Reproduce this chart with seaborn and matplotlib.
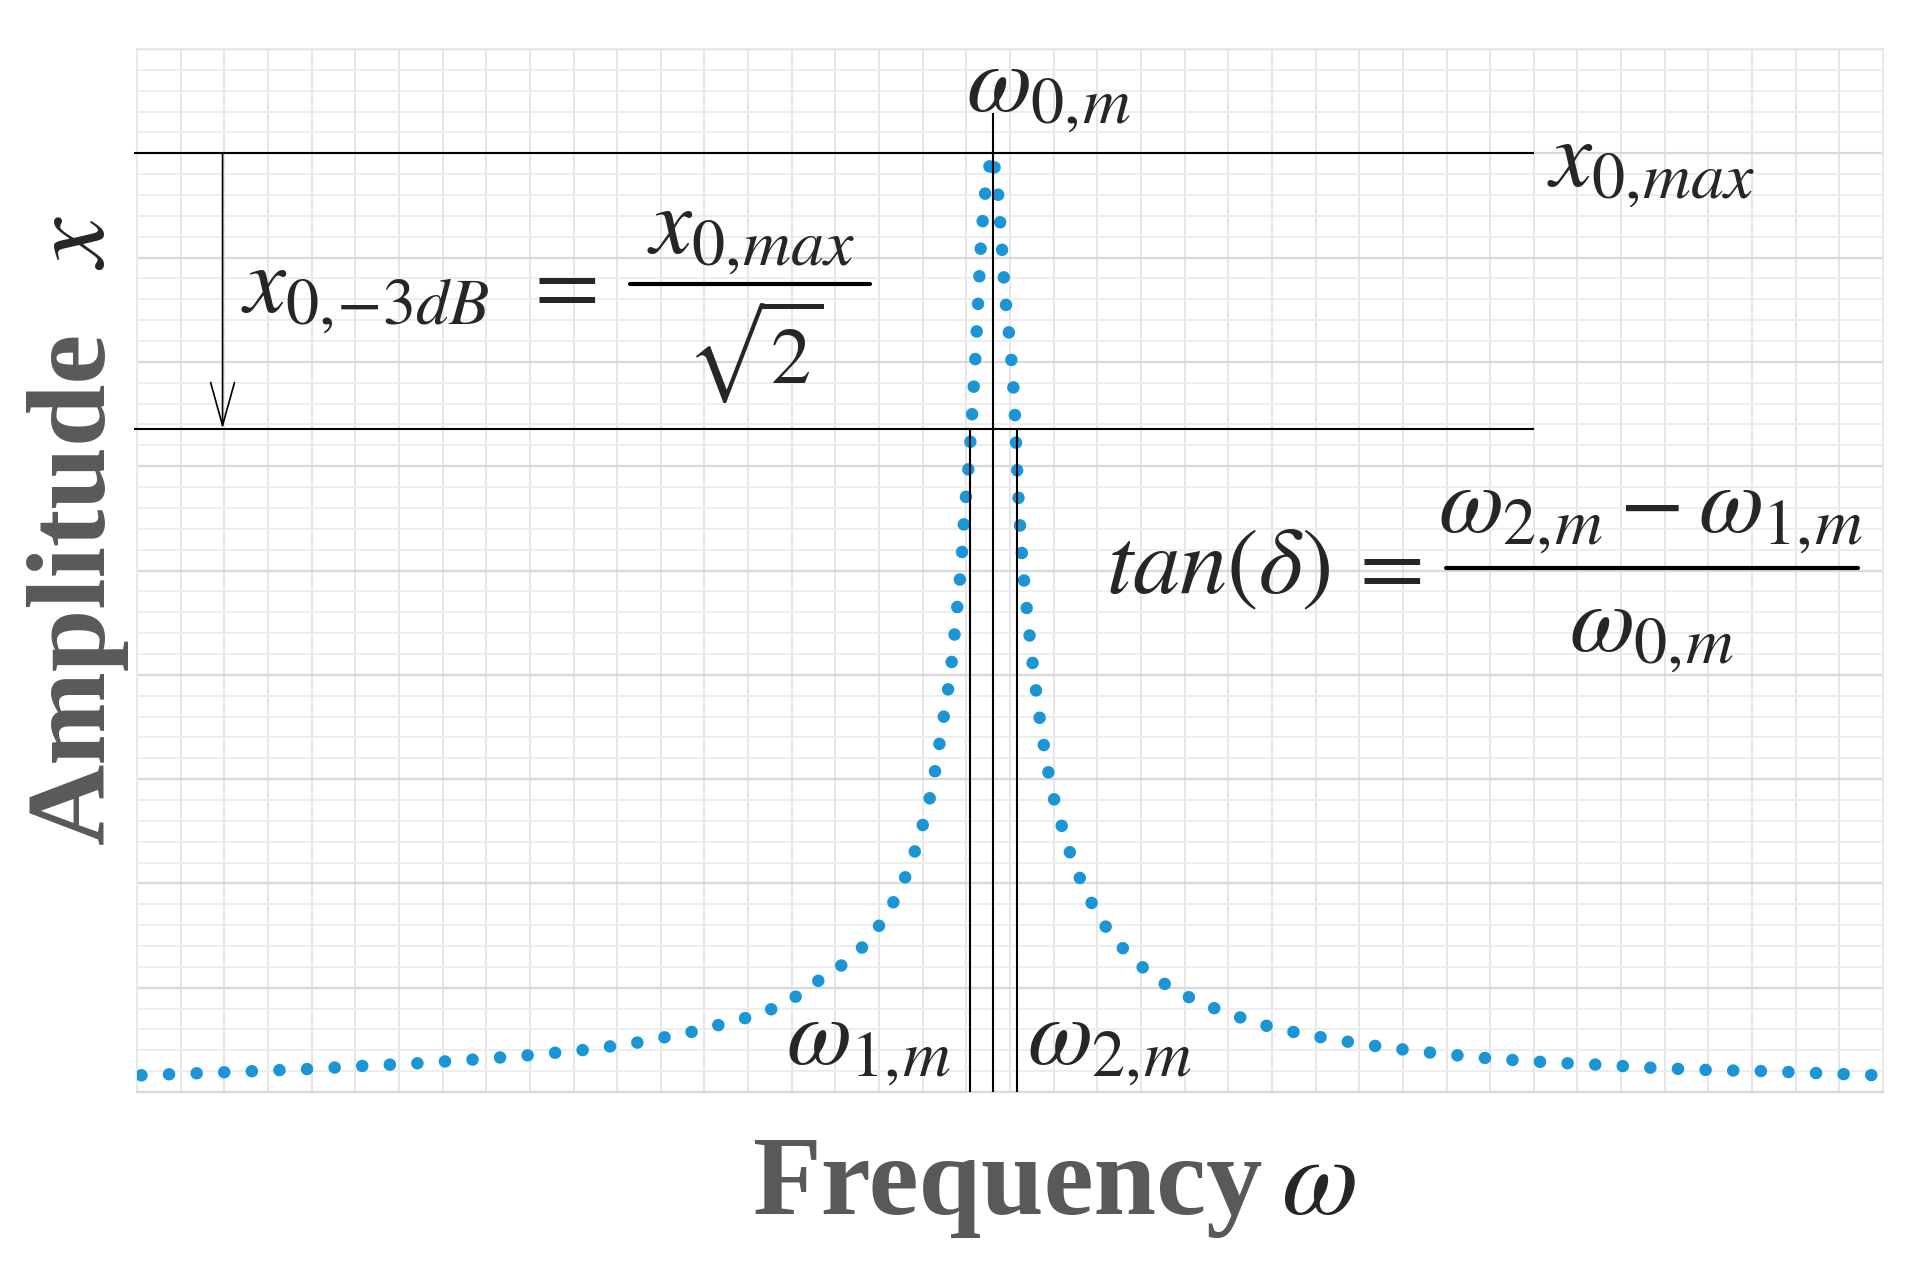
import numpy as np
import matplotlib
matplotlib.use('Agg')
import matplotlib.pyplot as plt
import seaborn as sns

# resonance curve (frequency in grid columns, amplitude in major grid rows)
omega = [0.10, 1.40, 2.66, 3.92, 5.17, 6.42, 7.67, 8.91, 10.18, 11.41,
         12.65, 13.87, 14.46, 14.98, 15.40, 15.92, 16.43, 16.83, 17.19, 17.48,
         17.73, 17.92, 18.09, 18.23, 18.43, 18.63, 18.76, 18.88, 18.96, 19.07,
         19.15, 19.22, 19.28, 19.34, 19.45, 19.59,
         19.71, 19.80, 19.88, 20.01, 20.10, 20.15, 20.21, 20.29, 20.41, 20.55,
         20.72, 20.93, 21.08, 21.27, 21.45, 21.71, 21.99, 22.33, 22.75, 23.22,
         23.74, 24.30, 24.87, 25.46, 26.07, 27.31, 28.55, 29.79, 31.04, 32.30,
         33.56, 34.80, 36.05, 37.30, 38.57, 39.83]
amplitude = [0.16, 0.18, 0.20, 0.22, 0.25, 0.275, 0.31, 0.35, 0.40, 0.47,
             0.57, 0.70, 0.78, 0.88, 1.01, 1.15, 1.30, 1.49, 1.71, 1.94,
             2.19, 2.44, 2.69, 2.94, 3.46, 3.99, 4.51, 5.04, 5.56, 6.09,
             6.62, 7.14, 7.66, 8.19, 8.71, 9.00,
             8.71, 8.19, 7.66, 7.14, 6.62, 6.09, 5.56, 5.04, 4.52, 3.99,
             3.46, 2.94, 2.69, 2.44, 2.19, 1.95, 1.71, 1.50, 1.30, 1.13,
             0.98, 0.87, 0.77, 0.69, 0.61, 0.51, 0.43, 0.37, 0.32, 0.285,
             0.26, 0.23, 0.21, 0.20, 0.18, 0.16]

x0_max = 9.0
x0_3db = 6.36
w0 = 19.60
w1 = 19.08
w2 = 20.15

sns.set_style('white')
plt.rcParams['mathtext.fontset'] = 'stix'
plt.rcParams['font.family'] = ['Liberation Serif', 'DejaVu Serif']

fig = plt.figure(figsize=(19.17, 12.88), dpi=100)
ax = fig.add_axes([137/1917, 196/1288, 1746/1917, 1043/1288])
ax.set_xlim(0, 40)
ax.set_ylim(0, 10)

# excel style grid
ax.set_xticks(np.arange(0, 41, 1))
ax.set_yticks(np.arange(0, 11, 1))
ax.set_yticks(np.arange(0, 10.01, 0.2), minor=True)
ax.tick_params(which='both', length=0, labelbottom=False, labelleft=False)
ax.grid(axis='x', which='major', color='#e6e6e6', lw=1.4)
ax.grid(axis='y', which='minor', color='#ececec', lw=1.3)
ax.grid(axis='y', which='major', color='#d9d9d9', lw=1.6)
ax.set_axisbelow(True)
for side in ['left', 'right', 'top']:
    ax.spines[side].set_color('#e6e6e6')
    ax.spines[side].set_linewidth(1.2)
ax.spines['bottom'].set_color('#d9d9d9')
ax.spines['bottom'].set_linewidth(1.6)

sns.lineplot(x=omega, y=amplitude, ax=ax, sort=False, estimator=None,
             color='#1a96d6', lw=9, linestyle=(0, (0.01, 2.2)),
             dash_capstyle='round', zorder=3)

# reference lines
ax.hlines([x0_max], -0.07, 32.0, color='black', lw=1.5, clip_on=False, zorder=4)
ax.hlines([x0_3db], -0.07, 32.0, color='black', lw=1.5, clip_on=False, zorder=4)
ax.vlines([w0], 0, 9.39, color='black', lw=1.5, zorder=4)
ax.vlines([w1, w2], 0, x0_3db, color='black', lw=1.5, zorder=4)
ax.annotate('', xy=(1.96, x0_3db), xytext=(1.96, x0_max),
            arrowprops=dict(arrowstyle='->,head_length=1.55,head_width=0.43',
                            mutation_scale=20, lw=1.2, color='black',
                            shrinkA=0, shrinkB=0), zorder=4)

fs = 68
ax.text(18.99, 9.40, r'$\omega_{0,\!m}$', fontsize=fs, ha='left', va='baseline')
ax.text(32.30, 8.69, r'$x_{0,\!max}$', fontsize=fs, ha='left', va='baseline')

ax.text(2.38, 7.48, r'$x_{0,\!{-}3dB}$', fontsize=fs, ha='left', va='baseline')
ax.text(8.8, 7.48, r'$=$', fontsize=fs, ha='left', va='baseline')
ax.plot([11.29, 16.79], [7.75, 7.75], color='black', lw=3)
ax.text(14.07, 8.04, r'$x_{0,\!max}$', fontsize=fs, ha='center', va='baseline')
ax.text(14.14, 6.80, r'$\sqrt{2}$', fontsize=58, ha='center', va='baseline')

ax.text(22.20, 4.78, r'$tan(\delta)$', fontsize=fs, ha='left', va='baseline')
ax.text(27.7, 4.78, r'$=$', fontsize=fs, ha='left', va='baseline')
ax.plot([29.99, 39.43], [5.02, 5.02], color='black', lw=3, clip_on=False)
ax.text(34.66, 5.37, r'$\omega_{2,\!m}-\omega_{1,\!m}$', fontsize=fs, ha='center', va='baseline')
ax.text(34.70, 4.23, r'$\omega_{0,\!m}$', fontsize=fs, ha='center', va='baseline')

ax.text(14.87, 0.27, r'$\omega_{1,\!m}$', fontsize=fs, ha='left', va='baseline')
ax.text(20.39, 0.27, r'$\omega_{2,\!m}$', fontsize=fs, ha='left', va='baseline')

# axis titles
lab = dict(fontsize=81, fontweight='bold', color='#595959')
t1 = fig.text(752/1917, 74/1288, 'Frequency', ha='left', va='baseline', **lab)
t2 = fig.text(104/1917, 444/1288, 'Amplitude', rotation=90, rotation_mode='anchor',
              ha='left', va='baseline', **lab)
fig.canvas.draw()
r = fig.canvas.get_renderer()
b1 = t1.get_window_extent(r)
b2 = t2.get_window_extent(r)
fig.text((b1.x1 + 19)/1917, 74/1288, r'$\omega$', fontsize=80, ha='left', va='baseline')
fig.text(104/1917, (b2.y1 + 62)/1288, r'$x$', fontsize=80, rotation=90,
         rotation_mode='anchor', ha='left', va='baseline')

fig.savefig('out.png', dpi=100)
